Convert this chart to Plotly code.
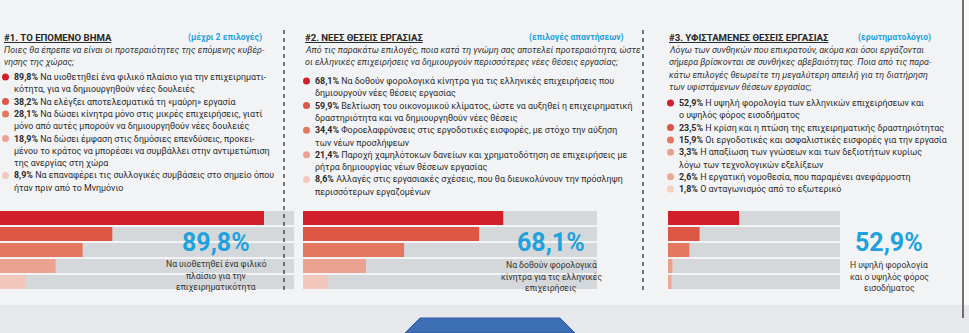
import plotly.graph_objects as go

W, H = 969, 333

# ---------------- data ----------------
p1_title = "#1. ΤΟ ΕΠΟΜΕΝΟ ΒΗΜΑ"
p1_tag = "(μέχρι 2 επιλογές)"
p1_question = ["Ποιες θα έπρεπε να είναι οι προτεραιότητες της επόμενης κυβέρ-",
               "νησης της χώρας;"]
p1_values = [89.8, 38.2, 28.1, 18.9, 8.9]
p1_answers = [
    ["Να υιοθετηθεί ένα φιλικό πλαίσιο για την επιχειρηματι-",
     "κότητα, για να δημιουργηθούν νέες δουλειές"],
    ["Να ελέγξει αποτελεσματικά τη «μαύρη» εργασία"],
    ["Να δώσει κίνητρα μόνο στις μικρές επιχειρήσεις, γιατί",
     "μόνο από αυτές μπορούν να δημιουργηθούν νέες δουλειές"],
    ["Να δώσει έμφαση στις δημόσιες επενδύσεις, προκει-",
     "μένου το κράτος να μπορέσει να συμβάλλει στην αντιμετώπιση",
     "της ανεργίας στη χώρα"],
    ["Να επαναφέρει τις συλλογικές συμβάσεις στο σημείο όπου",
     "ήταν πριν από το Μνημόνιο"],
]
p1_caption = ["Να υιοθετηθεί ένα φιλικό", "πλαίσιο για την", "επιχειρηματικότητα"]

p2_title = "#2. ΝΕΕΣ ΘΕΣΕΙΣ ΕΡΓΑΣΙΑΣ"
p2_tag = "(επιλογές απαντήσεων)"
p2_question = ["Από τις παρακάτω επιλογές, ποια κατά τη γνώμη σας αποτελεί προτεραιότητα, ώστε",
               "οι ελληνικές επιχειρήσεις να δημιουργούν περισσότερες νέες θέσεις εργασίας;"]
p2_values = [68.1, 59.9, 34.4, 21.4, 8.6]
p2_answers = [
    ["Να δοθούν φορολογικά κίνητρα για τις ελληνικές επιχειρήσεις που",
     "δημιουργούν νέες θέσεις εργασίας"],
    ["Βελτίωση του οικονομικού κλίματος, ώστε να αυξηθεί η επιχειρηματική",
     "δραστηριότητα και να δημιουργηθούν νέες θέσεις"],
    ["Φοροελαφρύνσεις στις εργοδοτικές εισφορές, με στόχο την αύξηση",
     "των νέων προσλήψεων"],
    ["Παροχή χαμηλότοκων δανείων και χρηματοδότηση σε επιχειρήσεις με",
     "ρήτρα δημιουργίας νέων θέσεων εργασίας"],
    ["Αλλαγές στις εργασιακές σχέσεις, που θα διευκολύνουν την πρόσληψη",
     "περισσότερων εργαζομένων"],
]
p2_caption = ["Να δοθούν φορολογικά", "κίνητρα για τις ελληνικές", "επιχειρήσεις"]

p3_title = "#3. ΥΦΙΣΤΑΜΕΝΕΣ ΘΕΣΕΙΣ ΕΡΓΑΣΙΑΣ"
p3_tag = "(ερωτηματολόγιο)"
p3_question = ["Λόγω των συνθηκών που επικρατούν, ακόμα και όσοι εργάζονται",
               "σήμερα βρίσκονται σε συνθήκες αβεβαιότητας. Ποια από τις παρα-",
               "κάτω επιλογές θεωρείτε τη μεγαλύτερη απειλή για τη διατήρηση",
               "των υφιστάμενων θέσεων εργασίας;"]
p3_values = [52.9, 23.5, 15.9, 3.3, 2.6, 1.8]
p3_answers = [
    ["Η υψηλή φορολογία των ελληνικών επιχειρήσεων και",
     "ο υψηλός φόρος εισοδήματος"],
    ["Η κρίση και η πτώση της επιχειρηματικής δραστηριότητας"],
    ["Οι εργοδοτικές και ασφαλιστικές εισφορές για την εργασία"],
    ["Η απαξίωση των γνώσεων και των δεξιοτήτων κυρίως",
     "λόγω των τεχνολογικών εξελίξεων"],
    ["Η εργατική νομοθεσία, που παραμένει ανεφάρμοστη"],
    ["Ο ανταγωνισμός από το εξωτερικό"],
]
p3_caption = ["Η υψηλή φορολογία", "και ο υψηλός φόρος", "εισοδήματος"]

# ---------------- style ----------------
SHADES5 = ["#d2202a", "#dc5643", "#e3775f", "#eba290", "#f3c8bc"]
SHADES6 = ["#d2202a", "#dc5643", "#e3775f", "#e9a08d", "#eba896", "#f4cfc2"]
TRACK = "rgba(196,199,204,0.62)"
CYAN = "#1ea2dd"
DARK = "#262626"
FONT = "Roboto"
BODY = 8.9

def fx(px):
    return px / W

def fy(py):
    return 1 - py / H

def fmt(v):
    return f"{v:.1f}".replace(".", ",") + "%"

panels = [
    dict(title=p1_title, tag=p1_tag, q=p1_question, vals=p1_values, ans=p1_answers,
         cap=p1_caption, shades=SHADES5, x0=2, xr=264, q0=50, b0=77,
         bx=(0, 294), rng=100, nbars=5, big=(216, 242), cap0=264),
    dict(title=p2_title, tag=p2_tag, q=p2_question, vals=p2_values, ans=p2_answers,
         cap=p2_caption, shades=SHADES5, x0=303, xr=626, q0=50, b0=81,
         bx=(303, 597), rng=100, nbars=5, big=(551, 242), cap0=265),
    dict(title=p3_title, tag=p3_tag, q=p3_question, vals=p3_values, ans=p3_answers,
         cap=p3_caption, shades=SHADES6, x0=667, xr=933, q0=50, b0=103,
         bx=(668, 840), rng=128, nbars=5, big=(889, 242), cap0=265),
]

STEP = 12.3
fig = go.Figure()
annotations = []
shapes = []

for i, p in enumerate(panels):
    ax = "" if i == 0 else str(i + 1)
    n = p["nbars"]
    cats = list(range(n))
    vals = p["vals"][:n]
    # track bars
    fig.add_trace(go.Bar(x=[p["rng"]] * n, y=cats, orientation="h",
                         marker=dict(color=TRACK, line=dict(width=0)),
                         xaxis="x" + ax, yaxis="y" + ax, hoverinfo="skip",
                         showlegend=False))
    fig.add_trace(go.Bar(x=vals, y=cats, orientation="h",
                         marker=dict(color=p["shades"][:n], line=dict(width=0)),
                         xaxis="x" + ax, yaxis="y" + ax, showlegend=False))
    fig.layout["xaxis" + ax] = dict(domain=[fx(p["bx"][0]), fx(p["bx"][1])],
                                    range=[0, p["rng"]], visible=False,
                                    anchor="y" + ax, fixedrange=True)
    fig.layout["yaxis" + ax] = dict(domain=[fy(290), fy(210)], range=[n - 0.5, -0.5],
                                    visible=False, anchor="x" + ax, fixedrange=True)

    # title + tag
    annotations.append(dict(x=fx(p["x0"]), y=fy(38), xref="paper", yref="paper",
                            text="<b><u>" + p["title"] + "</u></b>", showarrow=False,
                            xanchor="left", yanchor="middle",
                            font=dict(family=FONT, size=9.6, color=DARK)))
    annotations.append(dict(x=fx(p["xr"]), y=fy(38), xref="paper", yref="paper",
                            text="<b>" + p["tag"] + "</b>", showarrow=False,
                            xanchor="right", yanchor="middle",
                            font=dict(family=FONT, size=8.6, color=CYAN)))
    # question
    for k, line in enumerate(p["q"]):
        annotations.append(dict(x=fx(p["x0"]), y=fy(p["q0"] + k * STEP),
                                xref="paper", yref="paper",
                                text="<i>" + line + "</i>", showarrow=False,
                                xanchor="left", yanchor="middle",
                                font=dict(family=FONT, size=BODY, color="#333333")))
    # bullets
    yline = p["b0"]
    for j, (v, lines) in enumerate(zip(p["vals"], p["ans"])):
        cx, cy, r = p["x0"] + 3.5, yline, 3.5
        shapes.append(dict(type="circle", xref="paper", yref="paper",
                           x0=fx(cx - r), x1=fx(cx + r), y0=fy(cy + r), y1=fy(cy - r),
                           fillcolor=p["shades"][j], line=dict(width=0)))
        for k, line in enumerate(lines):
            txt = ("<b>" + fmt(v) + "</b> " + line) if k == 0 else line
            annotations.append(dict(x=fx(p["x0"] + 10), y=fy(yline),
                                    xref="paper", yref="paper", text=txt,
                                    showarrow=False, xanchor="left", yanchor="middle",
                                    font=dict(family=FONT, size=BODY, color="#2b2b2b")))
            yline += STEP
    # big highlight
    annotations.append(dict(x=fx(p["big"][0]), y=fy(p["big"][1]), xref="paper", yref="paper",
                            text="<b>" + fmt(p["vals"][0]) + "</b>", showarrow=False,
                            xanchor="center", yanchor="middle",
                            font=dict(family=FONT, size=25, color=CYAN)))
    for k, line in enumerate(p["cap"]):
        annotations.append(dict(x=fx(p["big"][0]), y=fy(p["cap0"] + k * 11.6),
                                xref="paper", yref="paper", text=line, showarrow=False,
                                xanchor="center", yanchor="middle",
                                font=dict(family=FONT, size=8.6, color="#333333")))

# dashed separators
for sx in (284, 643):
    shapes.append(dict(type="line", xref="paper", yref="paper",
                       x0=fx(sx), x1=fx(sx), y0=fy(30), y1=fy(292),
                       line=dict(color="#333333", width=1.3, dash="4px,4px")))
# right frame line
shapes.append(dict(type="line", xref="paper", yref="paper", x0=fx(963), x1=fx(963),
                   y0=fy(0), y1=fy(318), line=dict(color="#444444", width=1.5)))
shapes.append(dict(type="rect", xref="paper", yref="paper", x0=fx(964), x1=1,
                   y0=fy(318), y1=1, fillcolor="#fafafa", line=dict(width=0), layer="below"))
# bottom photo hints
shapes.append(dict(type="rect", xref="paper", yref="paper", x0=0, x1=1,
                   y0=0, y1=fy(305), fillcolor="#e6e8eb", line=dict(width=0), layer="below"))
shapes.append(dict(type="path", xref="paper", yref="paper",
                   path=f"M {fx(405)},{fy(333)} L {fx(420)},{fy(318)} L {fx(560)},{fy(318)} L {fx(575)},{fy(333)} Z",
                   fillcolor="#3d6fb6", line=dict(color="#2c5a9c", width=1), layer="below"))

fig.update_layout(
    width=W, height=H, margin=dict(l=0, r=0, t=0, b=0),
    paper_bgcolor="#f2f3f5", plot_bgcolor="rgba(0,0,0,0)",
    barmode="overlay", bargap=0.125,
    annotations=annotations, shapes=shapes, showlegend=False,
)

fig.write_html("out.html")
